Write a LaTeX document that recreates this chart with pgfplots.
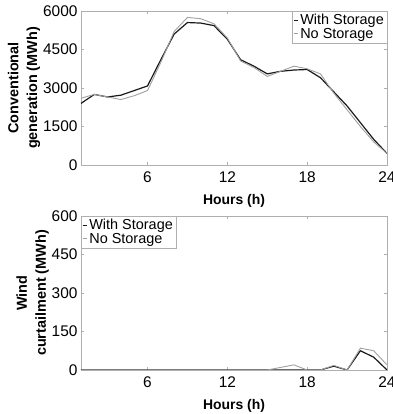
\documentclass[border=0pt]{standalone}
\usepackage{pgfplots}
\pgfplotsset{compat=1.18}
\usepackage{fontspec}
\setmainfont{Liberation Sans}
\definecolor{axgray}{RGB}{175,175,175}
\definecolor{nsgray}{RGB}{160,160,160}
\definecolor{wsblack}{RGB}{25,25,25}
\begin{document}
\begin{tikzpicture}
\pgfplotsset{
  common/.style={
    scale only axis, width=306bp, height=154bp,
    xmin=1, xmax=24, xtick={6,12,18,24},
    axis line style={axgray, line width=0.6pt},
    tick style={axgray, line width=0.5pt},
    major tick length=3bp,
    tick align=inside,
    /pgf/number format/assume math mode=true,
    /pgf/number format/1000 sep={},
    tick label style={font=\fontsize{15.5}{17}\selectfont, black},
    xticklabel style={yshift=-3bp},
    label style={font=\fontsize{14}{15}\selectfont\bfseries},
    xlabel={Hours (h)},
    xlabel style={yshift=-5bp},
    ylabel style={align=center, yshift=-4bp, font=\fontsize{14.5}{19}\selectfont\bfseries},
    legend style={draw=axgray, font=\fontsize{14.5}{16}\selectfont, inner sep=1pt, row sep=-2pt,
      legend cell align=left},
    legend image code/.code={\draw[#1] (0cm,0cm) -- (0.14cm,0cm);},
    scaled y ticks=false,
  },
}
\begin{axis}[common, name=top, at={(0,0)}, anchor=north west,
  ymin=0, ymax=6000, ytick={0,1500,3000,4500,6000},
  ylabel={Conventional\\generation (MWh)},
  legend style={at={(1,1)}, anchor=north east}]
\addplot[wsblack, line width=1.2pt] coordinates {
(1,2400) (2,2750) (3,2650) (4,2720) (5,2900) (6,3080) (7,4100) (8,5100)
(9,5550) (10,5530) (11,5430) (12,4900) (13,4100) (14,3850) (15,3550) (16,3650)
(17,3700) (18,3720) (19,3400) (20,2850) (21,2300) (22,1650) (23,1000) (24,450)};
\addlegendentry{With Storage}
\addplot[nsgray, line width=0.9pt] coordinates {
(1,2600) (2,2750) (3,2650) (4,2550) (5,2700) (6,2900) (7,4000) (8,5200)
(9,5750) (10,5700) (11,5500) (12,4950) (13,4050) (14,3800) (15,3450) (16,3650)
(17,3850) (18,3750) (19,3550) (20,2800) (21,2150) (22,1500) (23,900) (24,450)};
\addlegendentry{No Storage}
\end{axis}
\begin{axis}[common, name=bot, at={(0,-205bp)}, anchor=north west,
  ymin=0, ymax=600, ytick={0,150,300,450,600},
  ylabel={Wind\\curtailment (MWh)},
  legend style={at={(0,1)}, anchor=north west}]
\addplot[wsblack, line width=1.2pt] coordinates {
(1,0) (2,0) (3,0) (4,0) (5,0) (6,0) (7,0) (8,0) (9,0) (10,0) (11,0) (12,0)
(13,0) (14,0) (15,0) (16,0) (17,0) (18,0) (19,0) (20,15) (21,0) (22,75) (23,50) (24,0)};
\addlegendentry{With Storage}
\addplot[nsgray, line width=0.9pt] coordinates {
(1,0) (2,0) (3,0) (4,0) (5,0) (6,0) (7,0) (8,0) (9,0) (10,0) (11,0) (12,0)
(13,0) (14,0) (15,0) (16,10) (17,20) (18,0) (19,0) (20,18) (21,0) (22,85) (23,75) (24,20)};
\addlegendentry{No Storage}
\end{axis}
\pgfresetboundingbox
\path[use as bounding box] (-81bp,11bp) rectangle (312bp,-403bp);
\end{tikzpicture}
\end{document}
